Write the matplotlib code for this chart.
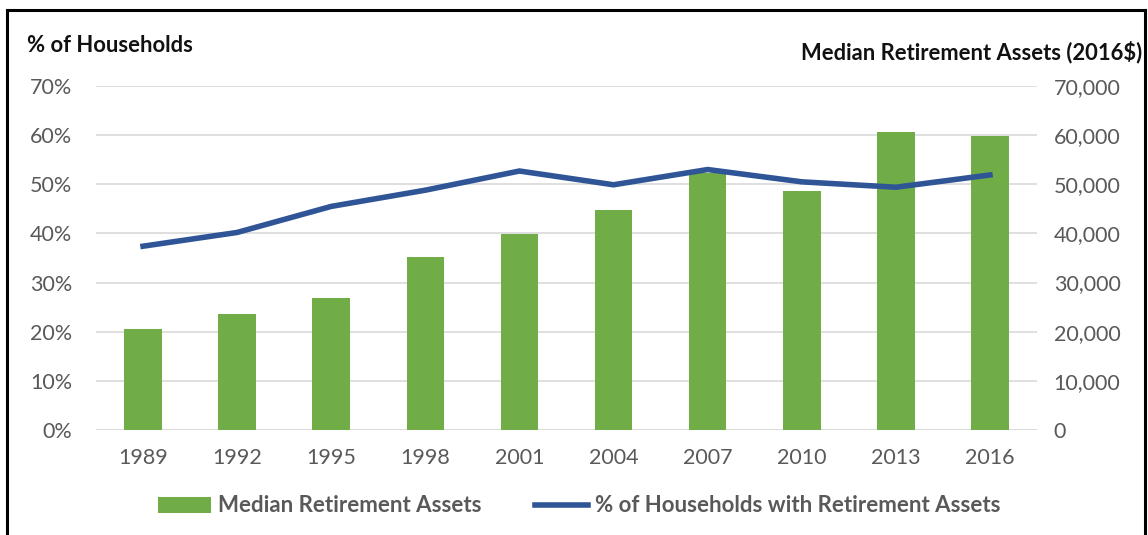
import matplotlib.pyplot as plt
from matplotlib.lines import Line2D
from matplotlib.patches import Patch
from matplotlib.ticker import FuncFormatter

years = ["1989", "1992", "1995", "1998", "2001", "2004", "2007", "2010", "2013", "2016"]
median_assets = [20500, 23600, 26800, 35300, 39800, 44800, 52300, 48700, 60700, 59900]
pct_households = [37.4, 40.2, 45.5, 48.8, 52.7, 49.9, 53.0, 50.5, 49.4, 51.9]

green = "#70AD47"
blue = "#2F5597"
gray = "#595959"

plt.rcParams['font.family'] = ['Lato', 'DejaVu Sans']

fig = plt.figure(figsize=(11.48, 5.35), dpi=100)
ax = fig.add_axes([96 / 1148, 1 - 430 / 535, 941 / 1148, 344 / 535])
ax2 = ax.twinx()

x = list(range(len(years)))

# bars on the right-hand axis, line on the left-hand axis
ax2.bar(x, median_assets, width=0.4, color=green, zorder=2)
ax2.set_ylim(0, 70000)
ax2.set_yticks(range(0, 70001, 10000))
ax2.yaxis.set_major_formatter(FuncFormatter(lambda v, p: f"{int(v):,}"))

ax.set_ylim(0, 70)
ax.set_yticks(range(0, 71, 10))
ax.yaxis.set_major_formatter(FuncFormatter(lambda v, p: f"{int(v)}%"))
ax.set_xlim(-0.5, len(years) - 0.5)
ax.set_xticks(x)
ax.set_xticklabels(years)

# put the line above the bars
ax.set_zorder(ax2.get_zorder() + 1)
ax.patch.set_visible(False)
ax.plot(x, pct_households, color=blue, linewidth=4, solid_joinstyle="miter", zorder=3)

for v in range(10, 71, 10):
    ax2.axhline(v * 1000, color="#D9D9D9", linewidth=1.2, zorder=1)
ax2.axhline(0, color="#D9D9D9", linewidth=1.4, zorder=1)

for a in (ax, ax2):
    for s in a.spines.values():
        s.set_visible(False)
    a.tick_params(length=0, labelsize=15.5, labelcolor=gray)
ax.tick_params(axis="y", pad=17)
ax.tick_params(axis="x", pad=13)
ax2.tick_params(axis="y", pad=12)

fig.text(27 / 1148, 1 - 45 / 535, "% of Households", fontsize=15.8, fontweight="bold",
         color="#111111", ha="left", va="center")
fig.text(1142 / 1148, 1 - 52 / 535, "Median Retirement Assets (2016$)", fontsize=15.8,
         fontweight="bold", color="#111111", ha="right", va="center")

handles = [Patch(facecolor=green, edgecolor="none"),
           Line2D([0], [0], color=blue, linewidth=4)]
labels = ["Median Retirement Assets", "% of Households with Retirement Assets"]
leg = fig.legend(handles, labels, loc="center", ncol=2, frameon=False,
                 bbox_to_anchor=(579 / 1148, 1 - 506 / 535), handlelength=2.4,
                 handletextpad=0.3, columnspacing=2.4,
                 prop={"size": 16, "weight": "bold"})
for t in leg.get_texts():
    t.set_color(gray)

# chart frame
fig.add_artist(Line2D([7 / 1148, 1145 / 1148], [1 - 10 / 535, 1 - 10 / 535],
                      color="black", linewidth=2.2))
fig.add_artist(Line2D([7 / 1148, 7 / 1148], [1 - 10 / 535, 0],
                      color="black", linewidth=2.2))
fig.add_artist(Line2D([1145 / 1148, 1145 / 1148], [1 - 10 / 535, 0],
                      color="black", linewidth=2.2))

fig.savefig("out.png", dpi=100)
